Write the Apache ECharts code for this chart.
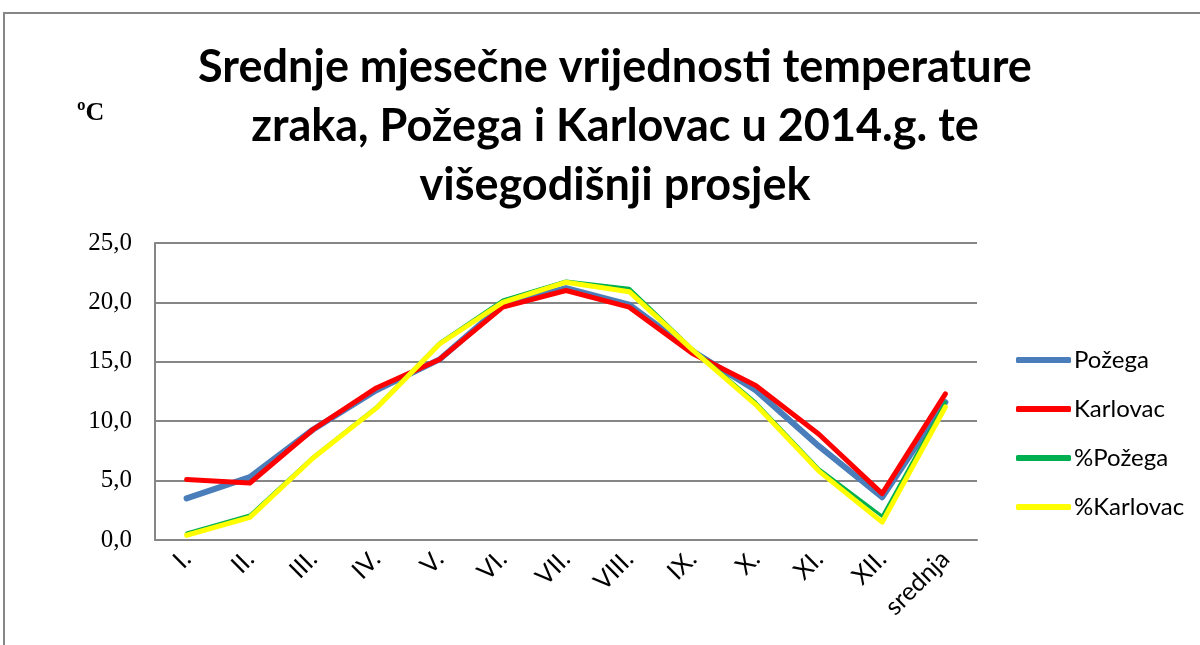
<!DOCTYPE html>
<html>
<head>
<meta charset="utf-8">
<script src="https://cdn.jsdelivr.net/npm/echarts@6/dist/echarts.min.js"></script>
<style>
html,body{margin:0;padding:0;background:#fff;}
#chart{width:1200px;height:645px;}
</style>
</head>
<body>
<div id="chart"></div>
<script>
const categories = ['I.', 'II.', 'III.', 'IV.', 'V.', 'VI.', 'VII.', 'VIII.', 'IX.', 'X.', 'XI.', 'XII.', 'srednja'];
const pozega = [3.5, 5.3, 9.3, 12.6, 15.2, 19.8, 21.2, 19.8, 15.9, 12.6, 7.9, 3.6, 11.6];
const karlovac = [5.1, 4.8, 9.3, 12.8, 15.2, 19.6, 21.0, 19.6, 15.7, 13.0, 8.9, 3.9, 12.3];
const pozegaAvg = [0.6, 2.1, 7.0, 11.2, 16.6, 20.2, 21.8, 21.2, 16.1, 11.6, 6.0, 2.0, 11.6];
const karlovacAvg = [0.4, 1.9, 6.9, 11.1, 16.5, 20.0, 21.7, 20.9, 16.0, 11.4, 5.8, 1.5, 11.2];
const seriesNames = ['Požega', 'Karlovac', '%Požega', '%Karlovac'];
const yTicks = [0, 5, 10, 15, 20, 25];

const chart = echarts.init(document.getElementById('chart'));
const colors = ['#4a7ebb', '#ff0000', '#00b050', '#ffff00'];
const widths = [6, 5, 3, 5];
const data = [pozega, karlovac, pozegaAvg, karlovacAvg];

chart.setOption({
  animation: false,
  backgroundColor: '#ffffff',
  title: {
    text: 'Srednje mjesečne vrijednosti temperature\nzraka, Požega i Karlovac u 2014.g. te\nvišegodišnji prosjek',
    left: 610,
    top: 33,
    textAlign: 'center',
    textStyle: {
      fontFamily: 'Lato',
      fontWeight: 'bold',
      fontSize: 45,
      lineHeight: 59,
      color: '#000'
    }
  },
  graphic: [
    {
      type: 'rect',
      shape: { x: 4, y: 13, width: 1300, height: 700 },
      style: { fill: 'none', stroke: '#868686', lineWidth: 2 },
      silent: true
    },
    {
      type: 'text',
      x: 77, y: 113,
      style: {
        text: 'ºC',
        font: 'bold 26px "Liberation Serif"',
        fill: '#000',
        textVerticalAlign: 'middle'
      }
    }
  ],
  legend: {
    orient: 'vertical',
    left: 1016,
    top: 348,
    padding: 0,
    itemWidth: 55,
    itemHeight: 6,
    itemGap: 25,
    icon: 'roundRect',
    data: seriesNames,
    textStyle: { fontFamily: 'Lato', fontSize: 24, color: '#000', padding: [0, 0, 0, -2] }
  },
  grid: { left: 155, right: 223, top: 243, bottom: 105, containLabel: false },
  xAxis: {
    type: 'category',
    data: categories,
    boundaryGap: true,
    axisLine: { show: true, lineStyle: { color: '#868686', width: 2 } },
    axisTick: { show: false },
    axisLabel: {
      rotate: 45,
      margin: 15,
      interval: 0,
      fontFamily: 'Lato',
      fontSize: 25,
      color: '#000'
    }
  },
  yAxis: {
    type: 'value',
    min: yTicks[0],
    max: yTicks[yTicks.length - 1],
    interval: 5,
    axisLine: { show: true, lineStyle: { color: '#868686', width: 2 } },
    axisTick: { show: false },
    splitLine: { show: true, lineStyle: { color: '#868686', width: 2 } },
    axisLabel: {
      margin: 23,
      fontFamily: 'Liberation Serif',
      fontSize: 25,
      color: '#000',
      formatter: v => v.toFixed(1).replace('.', ',')
    }
  },
  series: seriesNames.map((name, i) => ({
    name: name,
    type: 'line',
    data: data[i],
    symbol: 'none',
    smooth: false,
    color: colors[i],
    lineStyle: { color: colors[i], width: widths[i], cap: 'round', join: 'round' },
    z: 2 + i
  }))
});
</script>
</body>
</html>
